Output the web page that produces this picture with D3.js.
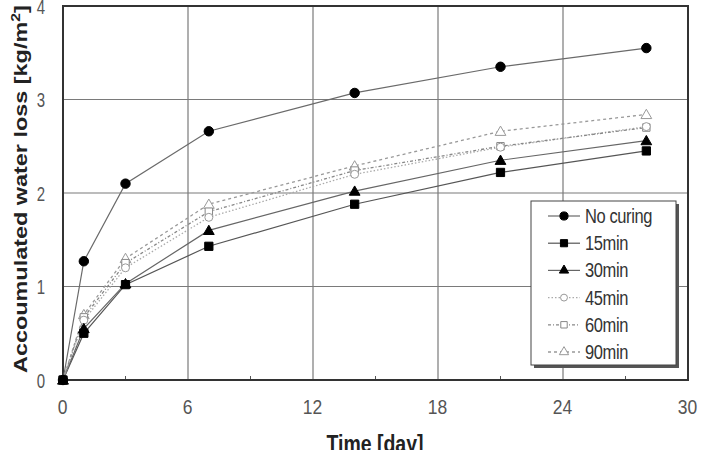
<!DOCTYPE html>
<html><head><meta charset="utf-8">
<script src="https://cdn.jsdelivr.net/npm/d3@7"></script>
<style>body{margin:0;background:#fff}svg{display:block}</style>
</head><body>
<svg id="c" width="702" height="450"></svg>
<script>
const days = [0, 1, 3, 7, 14, 21, 28];
const seriesNames = ["No curing", "15min", "30min", "45min", "60min", "90min"];
const noCuring = [0, 1.27, 2.10, 2.66, 3.07, 3.35, 3.55];
const min15 = [0, 0.50, 1.02, 1.43, 1.88, 2.22, 2.45];
const min30 = [0, 0.55, 1.03, 1.60, 2.02, 2.35, 2.56];
const min45 = [0, 0.64, 1.20, 1.74, 2.20, 2.49, 2.71];
const min60 = [0, 0.67, 1.25, 1.80, 2.24, 2.50, 2.70];
const min90 = [0, 0.70, 1.30, 1.88, 2.29, 2.66, 2.84];
const xTicks = [0, 6, 12, 18, 24, 30];
const xMinor = [3, 9, 15, 21, 27];
const yTicks = [0, 1, 2, 3, 4];

const values = [noCuring, min15, min30, min45, min60, min90];
const styles = [
  {sym: d3.symbolCircle, size: 70, fill: "#000", stroke: "#000", line: "#6a6a6a", dash: null, lw: 1.2},
  {sym: d3.symbolSquare, size: 68, fill: "#000", stroke: "#000", line: "#555", dash: null, lw: 1.2},
  {sym: d3.symbolTriangle, size: 50, fill: "#000", stroke: "#000", line: "#666", dash: null, lw: 1.2},
  {sym: d3.symbolCircle, size: 50, fill: "#fff", stroke: "#999", line: "#aaa", dash: "1.5,2", lw: 1.3},
  {sym: d3.symbolSquare, size: 55, fill: "#fff", stroke: "#888", line: "#888", dash: "3,2,1,2", lw: 1.3},
  {sym: d3.symbolTriangle, size: 50, fill: "#fff", stroke: "#999", line: "#999", dash: "3,3", lw: 1.3}
];
const FONT = "Liberation Sans, Arial, sans-serif";

const svg = d3.select("#c");
const L = 63, R = 688, T = 6, B = 380;
const x = d3.scaleLinear().domain([0, 30]).range([L, R]);
const y = d3.scaleLinear().domain([0, 4]).range([B, T]);

// grid
const g = svg.append("g");
g.selectAll(".gx").data(xTicks.slice(1, -1)).enter().append("line")
  .attr("x1", d => x(d)).attr("x2", d => x(d)).attr("y1", T).attr("y2", B)
  .attr("stroke", "#7a7a7a").attr("stroke-width", 1.2);
g.selectAll(".gy").data(yTicks.slice(1, -1)).enter().append("line")
  .attr("y1", d => y(d)).attr("y2", d => y(d)).attr("x1", L).attr("x2", R)
  .attr("stroke", "#7a7a7a").attr("stroke-width", 1.2);

// axes
const xAxis = d3.axisBottom(x).tickValues(xTicks).tickSize(0).tickPadding(0).tickFormat(d3.format("d"));
const gx = svg.append("g").attr("transform", `translate(0,${B})`).call(xAxis);
gx.select(".domain").remove();
gx.selectAll(".tick text").attr("font-family", FONT).attr("font-size", 17.5).attr("fill", "#555")
  .attr("y", 0).attr("dy", null).attr("transform", "translate(-1,34) scale(1,1.15)");
const yAxis = d3.axisLeft(y).tickValues(yTicks).tickSize(0).tickPadding(0).tickFormat(d3.format("d"));
const gy = svg.append("g").attr("transform", `translate(${L},0)`).call(yAxis);
gy.select(".domain").remove();
gy.selectAll(".tick text").attr("font-family", FONT).attr("font-size", 15).attr("fill", "#555")
  .attr("text-anchor", "middle").attr("x", 0).attr("dy", null).attr("y", 0)
  .attr("transform", "translate(-22,7) scale(1,1.3)");

// minor ticks
svg.selectAll(".mt").data(xMinor).enter().append("line")
  .attr("x1", d => x(d)).attr("x2", d => x(d)).attr("y1", B).attr("y2", B - 4)
  .attr("stroke", "#555").attr("stroke-width", 1);

// frame
svg.append("rect").attr("x", L).attr("y", T).attr("width", R - L).attr("height", B - T)
  .attr("fill", "none").attr("stroke", "#333").attr("stroke-width", 2);

// series
const line = d3.line().x((d, i) => x(days[i])).y(d => y(d));
values.forEach((vals, si) => {
  const s = styles[si];
  svg.append("path").datum(vals).attr("d", line).attr("fill", "none")
    .attr("stroke", s.line).attr("stroke-width", s.lw)
    .attr("stroke-dasharray", s.dash);
});
[5, 4, 3, 2, 1, 0].forEach(si => {
  const s = styles[si];
  svg.append("g").selectAll("path").data(values[si]).enter().append("path")
    .attr("transform", (d, i) => `translate(${x(days[i])},${y(d) + (s.sym === d3.symbolTriangle ? 1 : 0)})`)
    .attr("d", d3.symbol().type(s.sym).size(s.size))
    .attr("fill", s.fill).attr("stroke", s.stroke).attr("stroke-width", 1);
});

// legend
const lg = svg.append("g");
const lx = 531, ly = 201, lw = 145, lh = 164;
lg.append("rect").attr("x", lx + 3).attr("y", ly + 3).attr("width", lw).attr("height", lh).attr("fill", "#555");
lg.append("rect").attr("x", lx).attr("y", ly).attr("width", lw).attr("height", lh)
  .attr("fill", "#fff").attr("stroke", "#444").attr("stroke-width", 1);
seriesNames.forEach((name, i) => {
  const s = styles[i];
  const cy = 216 + i * 27.2;
  lg.append("line").attr("x1", 548).attr("x2", 580).attr("y1", cy).attr("y2", cy)
    .attr("stroke", s.line).attr("stroke-width", s.lw).attr("stroke-dasharray", s.dash);
  lg.append("path").attr("transform", `translate(564,${cy})`)
    .attr("d", d3.symbol().type(s.sym).size(s.size * 0.75))
    .attr("fill", s.fill).attr("stroke", s.stroke).attr("stroke-width", 1);
  lg.append("text").attr("transform", `translate(585,${cy + 7}) scale(1,1.2)`)
    .attr("font-family", FONT).attr("font-size", 16.5)
    .attr("letter-spacing", -0.4).attr("fill", "#333").text(name);
});

// titles
svg.append("text").attr("transform", "translate(375,452) scale(1,1.2)").attr("text-anchor", "middle")
  .attr("font-family", FONT).attr("font-weight", "bold")
  .attr("font-size", 19.5).attr("fill", "#222").text("Time [day]");
const yt = svg.append("text")
  .attr("text-anchor", "start").attr("font-family", FONT)
  .attr("font-weight", "bold").attr("font-size", 18).attr("fill", "#222");
yt.append("tspan").text("Accoumulated water loss [kg/m");
yt.append("tspan").attr("dy", -7).attr("font-size", 12).text("2");
yt.append("tspan").attr("dy", 7).text("]");
const tw = yt.node().getComputedTextLength();
const target = 368, sx = target / tw;
yt.attr("transform", `translate(27,373) rotate(-90) scale(${sx},1)`);
</script>
</body></html>
